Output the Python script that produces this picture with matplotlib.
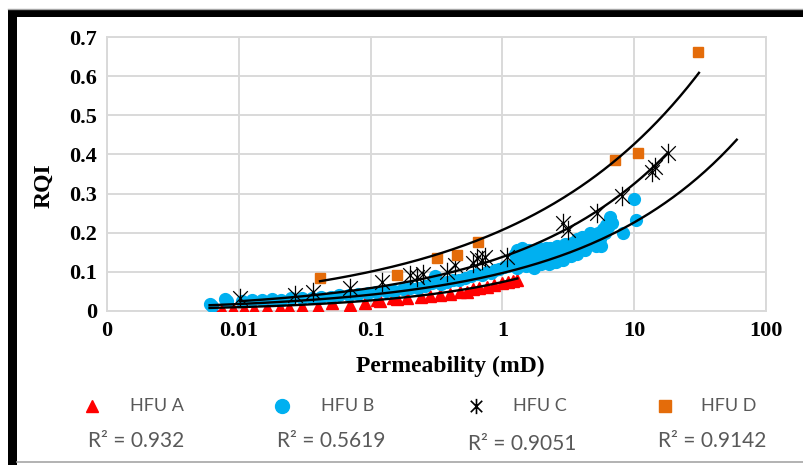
"""RQI versus permeability for the four hydraulic flow units (HFU A-D)."""
import numpy as np
import matplotlib

matplotlib.use("Agg")
import matplotlib.pyplot as plt
from matplotlib.lines import Line2D
from matplotlib.patches import Rectangle
from matplotlib.path import Path
from matplotlib.ticker import FixedLocator, FixedFormatter

# ---- data ----
hfu_a_k = [0.0065, 0.0075, 0.009, 0.011, 0.013, 0.0164, 0.0206, 0.024, 0.030,
           0.040, 0.051, 0.070, 0.090, 0.112, 0.118, 0.147, 0.158, 0.19, 0.24,
           0.28, 0.336, 0.40, 0.48, 0.54, 0.60, 0.67, 0.76, 0.86, 1.0, 1.1, 1.2, 1.3]
hfu_a_rqi = [0.004, 0.003, 0.005, 0.004, 0.006, 0.008, 0.008, 0.007, 0.010,
             0.011, 0.020, 0.016, 0.020, 0.028, 0.026, 0.033, 0.030, 0.032, 0.036,
             0.038, 0.042, 0.044, 0.049, 0.049, 0.055, 0.059, 0.062, 0.066, 0.072,
             0.075, 0.077, 0.080]

hfu_b_k = [0.0060, 0.0063, 0.0078, 0.0082, 0.0105, 0.0125, 0.015, 0.018, 0.021,
           0.025, 0.030, 0.036, 0.042, 0.050, 0.058, 0.068, 0.080, 0.095, 0.11,
           0.13, 0.15, 0.175, 0.20, 0.23, 0.26, 0.29, 0.31, 0.34, 0.38, 0.42,
           0.47, 0.52, 0.58, 0.64, 0.70, 0.76, 0.82, 0.88, 0.95, 1.02, 1.10,
           1.20, 1.25, 1.28, 1.30, 1.30, 1.35, 1.40, 1.42, 1.45, 1.50, 1.50,
           1.55, 1.58, 1.60, 1.65, 1.70, 1.72, 1.75, 1.80, 1.85, 1.88, 1.90,
           1.95, 2.00, 2.05, 2.10, 2.15, 2.20, 2.25, 2.30, 2.35, 2.40, 2.45,
           2.50, 2.55, 2.60, 2.65, 2.70, 2.80, 2.85, 2.90, 3.00, 3.05, 3.10,
           3.20, 3.25, 3.30, 3.40, 3.45, 3.50, 3.60, 3.65, 3.70, 3.80, 3.85,
           3.90, 4.00, 4.05, 4.10, 4.20, 4.30, 4.40, 4.50, 4.60, 4.70, 4.80,
           5.00, 5.10, 5.20, 5.30, 5.40, 5.50, 5.60, 5.80, 6.00, 6.10, 6.30,
           6.50, 6.60, 6.80, 8.20, 9.90, 10.4]
hfu_b_rqi = [0.018, 0.014, 0.031, 0.026, 0.025, 0.027, 0.028, 0.030, 0.029,
             0.032, 0.034, 0.033, 0.036, 0.037, 0.040, 0.041, 0.043, 0.046, 0.049,
             0.052, 0.050, 0.056, 0.060, 0.058, 0.065, 0.072, 0.090, 0.070, 0.075,
             0.080, 0.078, 0.085, 0.090, 0.095, 0.093, 0.100, 0.098, 0.105, 0.108,
             0.112, 0.115, 0.120, 0.145, 0.135, 0.110, 0.155, 0.130, 0.140, 0.160,
             0.120, 0.150, 0.115, 0.135, 0.120, 0.155, 0.125, 0.145, 0.135, 0.110,
             0.150, 0.130, 0.145, 0.160, 0.120, 0.140, 0.155, 0.130, 0.160, 0.145,
             0.120, 0.160, 0.150, 0.135, 0.125, 0.150, 0.125, 0.165, 0.150, 0.140,
             0.155, 0.140, 0.130, 0.170, 0.155, 0.145, 0.160, 0.170, 0.140, 0.175,
             0.160, 0.150, 0.165, 0.185, 0.145, 0.180, 0.170, 0.160, 0.190, 0.160,
             0.170, 0.155, 0.175, 0.185, 0.170, 0.200, 0.190, 0.180, 0.195, 0.165,
             0.180, 0.200, 0.195, 0.185, 0.165, 0.210, 0.200, 0.220, 0.215, 0.230,
             0.240, 0.225, 0.200, 0.285, 0.232]

hfu_c_k = [0.0102, 0.0267, 0.0366, 0.0698, 0.122, 0.199, 0.225, 0.25, 0.38,
           0.44, 0.60, 0.64, 0.70, 0.74, 1.08, 2.89, 3.15, 5.2, 8.1, 13.6, 14.4, 18.0]
hfu_c_rqi = [0.032, 0.041, 0.049, 0.059, 0.074, 0.092, 0.087, 0.095, 0.100,
             0.118, 0.123, 0.135, 0.130, 0.138, 0.138, 0.225, 0.207, 0.250, 0.294,
             0.355, 0.368, 0.404]

hfu_d_k = [0.0413, 0.158, 0.319, 0.453, 0.653, 7.14, 10.7, 30.5]
hfu_d_rqi = [0.084, 0.092, 0.135, 0.143, 0.176, 0.386, 0.404, 0.662]

# power-law trendlines RQI = a * k^b, with the k range each one spans
trend_a = (0.074, 0.44, 0.006, 1.3)
trend_b = (0.097, 0.368, 0.006, 60.0)
trend_c = (0.138, 0.372, 0.0102, 18.0)
trend_d = (0.207, 0.314, 0.0413, 31.0)

r2_labels = ["R² = 0.932", "R² = 0.5619", "R² = 0.9051", "R² = 0.9142"]
unit_names = ["HFU A", "HFU B", "HFU C", "HFU D"]

x_ticks = [0.001, 0.01, 0.1, 1, 10, 100]
x_tick_labels = ["0", "0.01", "0.1", "1", "10", "100"]
y_ticks = [0, 0.1, 0.2, 0.3, 0.4, 0.5, 0.6, 0.7]
y_tick_labels = ["0", "0.1", "0.2", "0.3", "0.4", "0.5", "0.6", "0.7"]

RED = "#FF0000"
BLUE = "#00B0F0"
ORANGE = "#E46C0A"
GRID = "#D9D9D9"
LEGEND_TXT = "#595959"

# Excel-like "star" marker: an X with a vertical bar
star = Path(
    [(0, -1), (0, 1), (-0.75, -0.75), (0.75, 0.75), (-0.75, 0.75), (0.75, -0.75)],
    [Path.MOVETO, Path.LINETO, Path.MOVETO, Path.LINETO, Path.MOVETO, Path.LINETO],
)

serif = ["Liberation Serif", "DejaVu Serif"]
sans = ["Lato", "DejaVu Sans"]

W, H = 804, 465
fig = plt.figure(figsize=(W / 100, H / 100), dpi=100)
fig.patch.set_facecolor("white")

ax = fig.add_axes([107 / W, 1 - 311 / H, 659 / W, 274 / H])
ax.set_xscale("log")
ax.set_xlim(0.001, 100)
ax.set_ylim(0, 0.7)

ax.plot(hfu_a_k, hfu_a_rqi, ls="none", marker="^", ms=8, color=RED, zorder=3)
ax.plot(hfu_b_k, hfu_b_rqi, ls="none", marker="o", ms=8.5, color=BLUE, zorder=4)
ax.plot(hfu_c_k, hfu_c_rqi, ls="none", marker=star, ms=14, color="none",
        mec="black", mew=0.9, zorder=5)
ax.plot(hfu_d_k, hfu_d_rqi, ls="none", marker="s", ms=7, color=ORANGE, zorder=5)

for a, b, k0, k1 in (trend_a, trend_b, trend_c, trend_d):
    k = np.logspace(np.log10(k0), np.log10(k1), 200)
    ax.plot(k, a * k ** b, color="black", lw=1.7, zorder=6)

ax.xaxis.set_major_locator(FixedLocator(x_ticks))
ax.xaxis.set_major_formatter(FixedFormatter(x_tick_labels))
ax.xaxis.set_minor_locator(FixedLocator([]))
ax.yaxis.set_major_locator(FixedLocator(y_ticks))
ax.yaxis.set_major_formatter(FixedFormatter(y_tick_labels))

ax.grid(True, color=GRID, lw=1.4, zorder=0)
ax.set_axisbelow(True)
for sp in ax.spines.values():
    sp.set_color(GRID)
    sp.set_linewidth(1.4)
ax.tick_params(length=0, pad=7)
for lab in ax.get_xticklabels() + ax.get_yticklabels():
    lab.set_fontfamily(serif)
    lab.set_fontweight("bold")
    lab.set_fontsize(16)

ax.set_xlabel("Permeability (mD)", fontfamily=serif, fontweight="bold", fontsize=17,
              va="center")
ax.xaxis.set_label_coords((450 - 107) / 659, (311 - 366) / 274)
ax.set_ylabel("RQI", fontfamily=serif, fontweight="bold", fontsize=17, va="center")
ax.yaxis.set_label_coords((44 - 107) / 659, (311 - 186) / 274)

# ---- legend below the plot, with the R² of each trendline ----
legend_marks = [
    dict(marker="^", ms=9, color=RED),
    dict(marker="o", ms=10, color=BLUE),
    dict(marker=star, ms=11, color="none", mec="black", mew=1.2),
    dict(marker="s", ms=8, color=ORANGE),
]
mark_x = [92, 282, 476, 665]
label_x = [130, 321, 513, 701]
r2_x = [88, 277, 468, 658]
r2_y = [441, 441, 444, 441]
for i in range(4):
    fig.add_artist(Line2D([mark_x[i] / W], [1 - 406 / H], ls="none",
                          transform=fig.transFigure, **legend_marks[i]))
    fig.text(label_x[i] / W, 1 - 406 / H, unit_names[i], fontfamily=sans,
             fontsize=13, color=LEGEND_TXT, va="center", ha="left")
    fig.text(r2_x[i] / W, 1 - r2_y[i] / H, r2_labels[i], fontfamily=sans,
             fontsize=15, color=LEGEND_TXT, va="center", ha="left")

# ---- frame around the chart ----
fig.add_artist(Rectangle((8 / W, 1 - 17 / H), 1, 7 / H, transform=fig.transFigure,
                         color="black", lw=0))
fig.add_artist(Rectangle((8 / W, 0), 9 / W, 1 - 10 / H, transform=fig.transFigure,
                         color="black", lw=0))
fig.add_artist(Line2D([8 / W, 1], [1 - 9 / H, 1 - 9 / H], transform=fig.transFigure,
                      color="#A6A6A6", lw=1.0))
fig.add_artist(Line2D([17 / W, 1], [1 - 462 / H, 1 - 462 / H], transform=fig.transFigure,
                      color="#A6A6A6", lw=1.2))

fig.savefig("out.png", dpi=100)
